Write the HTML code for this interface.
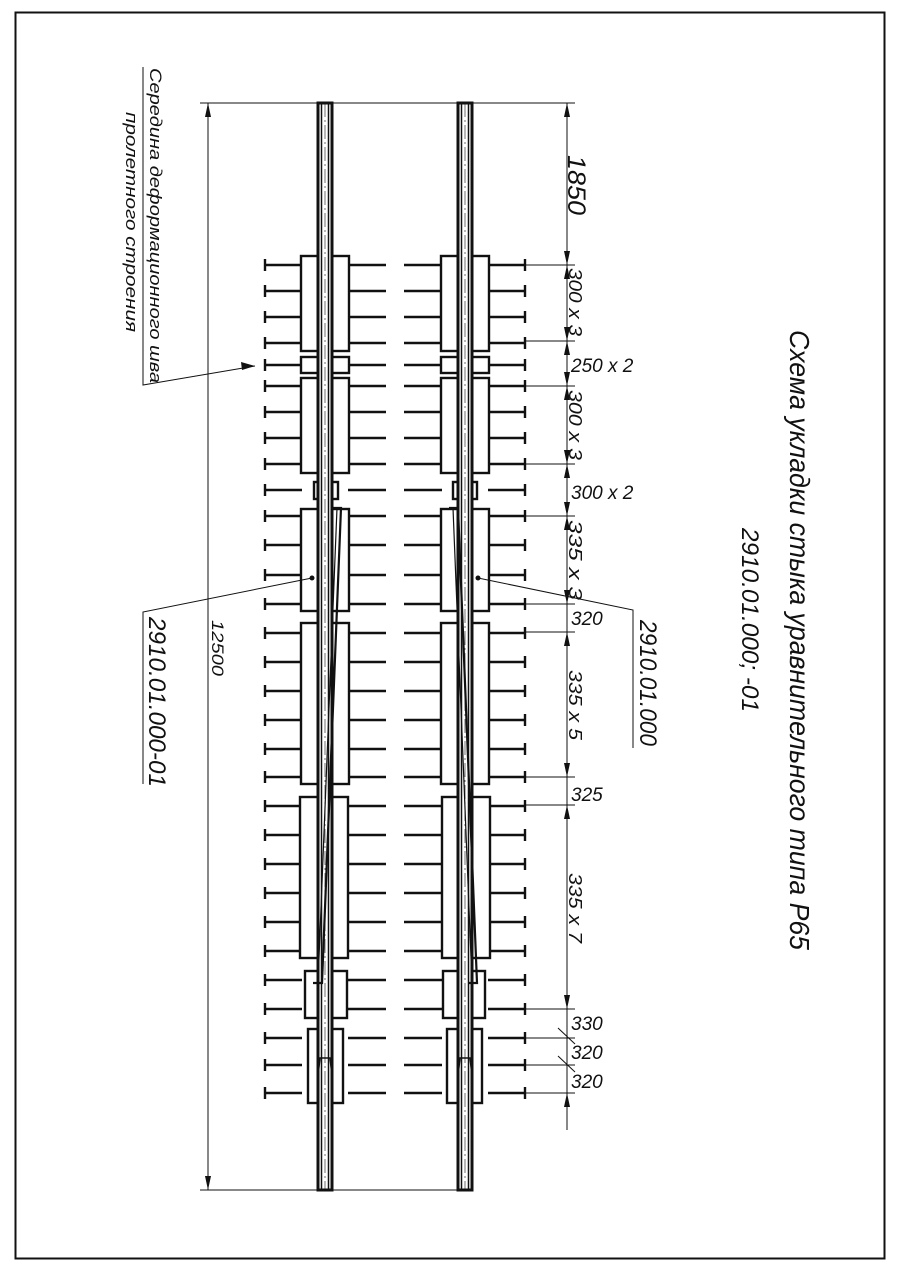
<!DOCTYPE html>
<html><head><meta charset="utf-8"><style>
html,body{margin:0;padding:0;background:#fff}
svg{display:block}
text{font-family:"Liberation Sans","DejaVu Sans",sans-serif;font-style:italic;fill:#111}
</style></head><body>
<svg width="900" height="1273" viewBox="0 0 900 1273" xmlns="http://www.w3.org/2000/svg">
<defs>
<g id="s" stroke="#111" stroke-width="2.4" fill="none">
<line x1="265" y1="0" x2="302" y2="0"/><line x1="265" y1="-6" x2="265" y2="6"/>
<line x1="348" y1="0" x2="386" y2="0"/>
<line x1="404" y1="0" x2="442" y2="0"/>
<line x1="488" y1="0" x2="525" y2="0"/><line x1="525" y1="-6" x2="525" y2="6"/>
</g>
<path id="ar" d="M0,0 L-3,-14 L3,-14 Z" fill="#111"/>
</defs>
<rect x="15.5" y="12.5" width="869" height="1246" fill="none" stroke="#111" stroke-width="2"/>

<g>
<use href="#s" y="265"/><use href="#s" y="291"/><use href="#s" y="317"/><use href="#s" y="343"/>
<use href="#s" y="365"/><use href="#s" y="386"/><use href="#s" y="412"/><use href="#s" y="438"/>
<use href="#s" y="464"/><use href="#s" y="490"/><use href="#s" y="516"/><use href="#s" y="545"/>
<use href="#s" y="575"/><use href="#s" y="604"/><use href="#s" y="633"/><use href="#s" y="662"/>
<use href="#s" y="691"/><use href="#s" y="720"/><use href="#s" y="749"/><use href="#s" y="777"/>
<use href="#s" y="806"/><use href="#s" y="835"/><use href="#s" y="864"/><use href="#s" y="893"/>
<use href="#s" y="922"/><use href="#s" y="951"/><use href="#s" y="980"/><use href="#s" y="1009"/>
<use href="#s" y="1038"/><use href="#s" y="1065"/><use href="#s" y="1093"/>
</g>

<g stroke="#111" stroke-width="2.4" fill="#fff">
<rect x="301" y="256" width="48" height="95"/>
<rect x="301" y="357" width="48" height="16"/>
<rect x="301" y="378" width="48" height="95"/>
<rect x="314" y="482" width="24" height="17"/>
<rect x="301" y="509" width="48" height="102"/>
<rect x="301" y="623" width="48" height="161"/>
<rect x="300" y="797" width="48" height="161"/>
<rect x="305" y="971" width="42" height="47"/>
<rect x="308" y="1029" width="35" height="74"/>
<rect x="441" y="256" width="48" height="95"/>
<rect x="441" y="357" width="48" height="16"/>
<rect x="441" y="378" width="48" height="95"/>
<rect x="453" y="482" width="24" height="17"/>
<rect x="441" y="509" width="48" height="102"/>
<rect x="441" y="623" width="48" height="161"/>
<rect x="442" y="797" width="48" height="161"/>
<rect x="443" y="971" width="42" height="47"/>
<rect x="447" y="1029" width="35" height="74"/>
</g>

<g stroke="#111" fill="#fff">
<rect x="318" y="103" width="14" height="1087" stroke-width="3"/>
<rect x="458" y="103" width="14" height="1087" stroke-width="3"/>
<line x1="321.5" y1="103" x2="321.5" y2="1190" stroke-width="1.5"/>
<line x1="328.5" y1="103" x2="328.5" y2="1190" stroke-width="1.5"/>
<line x1="461.5" y1="103" x2="461.5" y2="1190" stroke-width="1.5"/>
<line x1="468.5" y1="103" x2="468.5" y2="1190" stroke-width="1.5"/>
<line x1="325" y1="103" x2="325" y2="1190" stroke-width="0.6" stroke-dasharray="14,3,2,3"/>
<line x1="465" y1="103" x2="465" y2="1190" stroke-width="0.6" stroke-dasharray="14,3,2,3"/>
</g>
<g stroke="#111" fill="none">
<polyline points="332,508 341,508 322,983 313,983" stroke-width="2.2"/>
<line x1="337" y1="508" x2="318" y2="983" stroke-width="1.2"/>
<polyline points="449,508 458,508 477,983 468,983" stroke-width="2.2"/>
<line x1="453" y1="508" x2="472" y2="983" stroke-width="1.2"/>
<path d="M318,1058 L332,1058 M320,1058 L318,1075 M330,1058 L332,1075" stroke-width="1.6"/>
<path d="M458,1058 L472,1058 M460,1058 L458,1075 M470,1058 L472,1075" stroke-width="1.6"/>
</g>

<g stroke="#111" stroke-width="1" fill="none">
<line x1="200" y1="103" x2="575" y2="103"/>
<line x1="200" y1="1190" x2="470" y2="1190"/>
<line x1="208" y1="103" x2="208" y2="1190"/>
<line x1="567" y1="103" x2="567" y2="1130"/>
<line x1="525" y1="265" x2="575" y2="265"/>
<line x1="525" y1="341" x2="575" y2="341"/>
<line x1="525" y1="386" x2="575" y2="386"/>
<line x1="525" y1="464" x2="575" y2="464"/>
<line x1="525" y1="516" x2="575" y2="516"/>
<line x1="525" y1="604" x2="575" y2="604"/>
<line x1="525" y1="632" x2="575" y2="632"/>
<line x1="525" y1="777" x2="575" y2="777"/>
<line x1="525" y1="805" x2="575" y2="805"/>
<line x1="525" y1="1009" x2="575" y2="1009"/>
<line x1="525" y1="1038" x2="575" y2="1038"/>
<line x1="525" y1="1065" x2="575" y2="1065"/>
<line x1="525" y1="1093" x2="575" y2="1093"/>
<line x1="558" y1="1028" x2="575" y2="1044"/>
<line x1="558" y1="1056" x2="575" y2="1072"/>
<polyline points="143,67 143,385 255,366"/>
<polyline points="143,784 143,612 312,578"/>
<polyline points="633,748 633,610 478,578"/>
</g>
<g fill="#111">
<use href="#ar" transform="translate(208,103) rotate(180)"/>
<use href="#ar" transform="translate(208,1190)"/>
<use href="#ar" transform="translate(567,103) rotate(180)"/>
<use href="#ar" transform="translate(567,265)"/>
<use href="#ar" transform="translate(567,265) rotate(180)"/>
<use href="#ar" transform="translate(567,341)"/>
<use href="#ar" transform="translate(567,341) rotate(180)"/>
<use href="#ar" transform="translate(567,386)"/>
<use href="#ar" transform="translate(567,386) rotate(180)"/>
<use href="#ar" transform="translate(567,464)"/>
<use href="#ar" transform="translate(567,464) rotate(180)"/>
<use href="#ar" transform="translate(567,516)"/>
<use href="#ar" transform="translate(567,516) rotate(180)"/>
<use href="#ar" transform="translate(567,604)"/>
<use href="#ar" transform="translate(567,632) rotate(180)"/>
<use href="#ar" transform="translate(567,777)"/>
<use href="#ar" transform="translate(567,805) rotate(180)"/>
<use href="#ar" transform="translate(567,1009)"/>
<use href="#ar" transform="translate(567,1093) rotate(180)"/>
<path d="M255,366 L241,362 L242,370 Z"/>
<circle cx="312" cy="578" r="2.5"/>
<circle cx="478" cy="578" r="2.5"/>
</g>

<g>
<text transform="translate(568,155) rotate(90)" font-size="25" textLength="60" lengthAdjust="spacingAndGlyphs">1850</text>
<text transform="translate(569,268) rotate(90)" font-size="18" textLength="68" lengthAdjust="spacingAndGlyphs">300 x 3</text>
<text transform="translate(569,390) rotate(90)" font-size="18" textLength="70" lengthAdjust="spacingAndGlyphs">300 x 3</text>
<text transform="translate(569,520) rotate(90)" font-size="18" textLength="80" lengthAdjust="spacingAndGlyphs">335 x 3</text>
<text transform="translate(569,670) rotate(90)" font-size="18" textLength="70" lengthAdjust="spacingAndGlyphs">335 x 5</text>
<text transform="translate(569,873) rotate(90)" font-size="18" textLength="70" lengthAdjust="spacingAndGlyphs">335 x 7</text>
<text transform="translate(212,620) rotate(90)" font-size="17" textLength="56" lengthAdjust="spacingAndGlyphs">12500</text>
<text transform="translate(149,617) rotate(90)" font-size="24" textLength="170" lengthAdjust="spacingAndGlyphs">2910.01.000-01</text>
<text transform="translate(640,620) rotate(90)" font-size="24" textLength="126" lengthAdjust="spacingAndGlyphs">2910.01.000</text>
<text transform="translate(742,528) rotate(90)" font-size="24" textLength="184" lengthAdjust="spacingAndGlyphs">2910.01.000; -01</text>
<text transform="translate(790,330) rotate(90)" font-size="28" textLength="620" lengthAdjust="spacingAndGlyphs">Схема укладки стыка уравнительного типа Р65</text>
<text transform="translate(150,68) rotate(90)" font-size="17" textLength="315" lengthAdjust="spacingAndGlyphs">Середина деформационного шва</text>
<text transform="translate(126,112) rotate(90)" font-size="17" textLength="220" lengthAdjust="spacingAndGlyphs">пролетного строения</text>
</g>
<g font-size="19">
<text x="571" y="372">250 x 2</text>
<text x="571" y="499">300 x 2</text>
<text x="571" y="625">320</text>
<text x="571" y="801">325</text>
<text x="571" y="1030">330</text>
<text x="571" y="1059">320</text>
<text x="571" y="1088">320</text>
</g>
</svg>
</body></html>
